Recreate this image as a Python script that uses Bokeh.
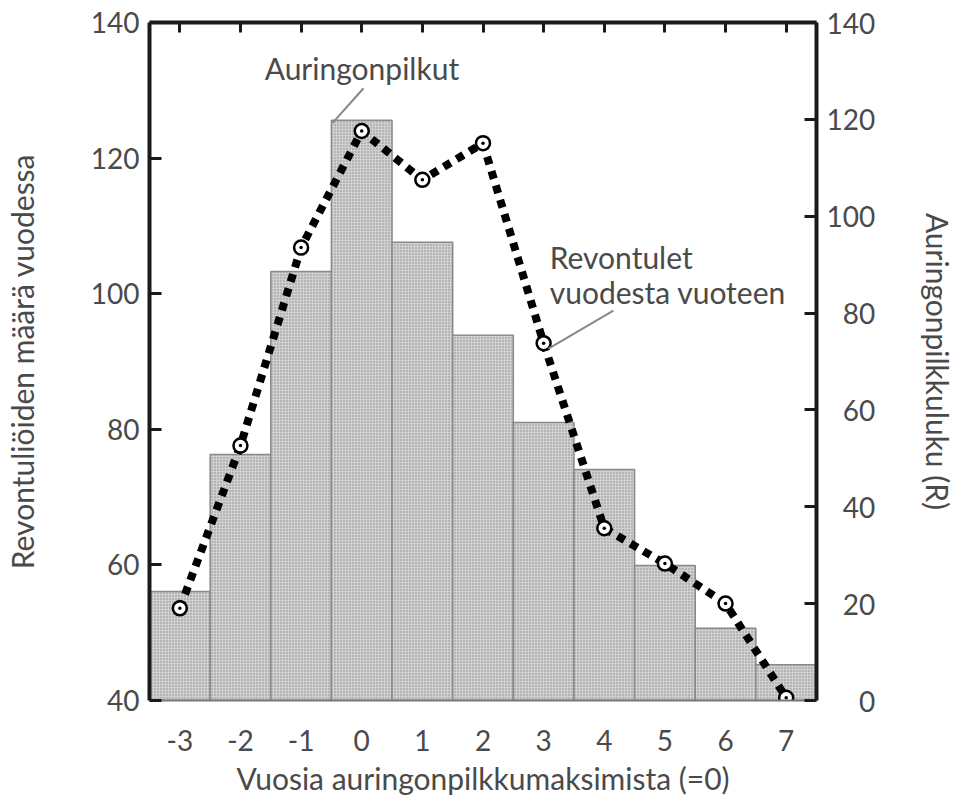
from bokeh.plotting import figure
from bokeh.models import Range1d, LinearAxis, FixedTicker, ColumnDataSource, Label
from bokeh.embed import file_html
from bokeh.resources import INLINE

# Years from sunspot maximum (=0)
years = [-3, -2, -1, 0, 1, 2, 3, 4, 5, 6, 7]
year_labels = ["-3", "-2", "-1", "0", "1", "2", "3", "4", "5", "6", "7"]
# Sunspot number R (bars, right axis)
sunspots = [22.5, 50.8, 88.6, 119.8, 94.6, 75.4, 57.4, 47.7, 27.9, 14.9, 7.4]
# Auroras per year (line, left axis)
auroras = [53.6, 77.6, 106.8, 124.0, 116.8, 122.2, 92.7, 65.4, 60.2, 54.3, 40.4]

left_ticks = [40, 60, 80, 100, 120, 140]
right_ticks = [0, 20, 40, 60, 80, 100, 120, 140]

FONT = "Lato"
TXT = "#4a4a4a"
TICK_FS = "28px"
LABEL_FS = "30px"

p = figure(width=961, height=803, output_backend="svg", toolbar_location=None,
           x_range=Range1d(-3.5, 7.5), y_range=Range1d(40, 140),
           min_border_left=148, min_border_right=145, min_border_top=22, min_border_bottom=103)
p.extra_y_ranges = {"spots": Range1d(0, 140)}
p.xgrid.visible = False
p.ygrid.visible = False
p.outline_line_color = None
p.background_fill_color = "white"

src_b = ColumnDataSource(dict(x=years, top=sunspots))
p.vbar(x="x", top="top", bottom=0, width=1.0, source=src_b, y_range_name="spots",
       fill_color="#d0d0d0", line_color="#8a8a8a", line_width=1.5,
       hatch_pattern="dot", hatch_color="#888888", hatch_scale=3, hatch_weight=1)

src_l = ColumnDataSource(dict(x=years, y=auroras))
p.line(x="x", y="y", source=src_l, line_color="black", line_width=8, line_dash="8 7")
p.scatter(x="x", y="y", source=src_l, marker="circle_dot", size=14,
          fill_color="white", line_color="black", line_width=2.5)

# bottom axis
xa = p.xaxis[0]
xa.ticker = FixedTicker(ticks=years)
xa.major_label_overrides = {y: s for y, s in zip(years, year_labels)}
xa.axis_line_color = "#777777"
xa.axis_line_width = 2
xa.major_tick_line_color = None
xa.minor_tick_line_color = None
xa.major_label_standoff = 23
xa.major_label_text_font = FONT
xa.major_label_text_font_size = TICK_FS
xa.major_label_text_color = TXT
xa.axis_label = "Vuosia auringonpilkkumaksimista (=0)"
xa.axis_label_text_font = FONT
xa.axis_label_text_font_size = LABEL_FS
xa.axis_label_text_font_style = "normal"
xa.axis_label_text_color = TXT
xa.axis_label_standoff = 6

# left axis
ya = p.yaxis[0]
ya.ticker = FixedTicker(ticks=left_ticks)
ya.axis_line_color = "#1a1a1a"
ya.axis_line_width = 4
ya.major_tick_in = 12
ya.major_tick_out = 0
ya.major_tick_line_width = 3
ya.major_tick_line_color = "#1a1a1a"
ya.minor_tick_line_color = None
ya.major_label_standoff = 10
ya.major_label_text_font = FONT
ya.major_label_text_font_size = TICK_FS
ya.major_label_text_color = TXT
ya.axis_label = "Revontuliöiden määrä vuodessa"
ya.axis_label_text_font = FONT
ya.axis_label_text_font_size = LABEL_FS
ya.axis_label_text_font_style = "normal"
ya.axis_label_text_color = TXT
ya.axis_label_standoff = 48

# right axis (labels right-aligned with figure spaces)
ra = LinearAxis(y_range_name="spots", ticker=FixedTicker(ticks=right_ticks))
ra.major_label_overrides = {t: ("\u2007" * (3 - len(str(t)))) + str(t) for t in right_ticks}
ra.axis_line_color = "#1a1a1a"
ra.axis_line_width = 4
ra.major_tick_in = 12
ra.major_tick_out = 0
ra.major_tick_line_width = 3
ra.major_tick_line_color = "#1a1a1a"
ra.minor_tick_line_color = None
ra.major_label_standoff = 10
ra.major_label_text_font = FONT
ra.major_label_text_font_size = TICK_FS
ra.major_label_text_color = TXT
ra.axis_label = "Auringonpilkkuluku (R)"
ra.axis_label_text_font = FONT
ra.axis_label_text_font_size = LABEL_FS
ra.axis_label_text_font_style = "normal"
ra.axis_label_text_color = TXT
ra.axis_label_standoff = 42
p.add_layout(ra, "right")

# top axis (frame)
ta = LinearAxis(ticker=FixedTicker(ticks=years))
ta.axis_line_color = "#1a1a1a"
ta.axis_line_width = 4
ta.major_tick_in = 10
ta.major_tick_out = 0
ta.major_tick_line_width = 3
ta.major_tick_line_color = "#1a1a1a"
ta.minor_tick_line_color = None
ta.major_label_text_font_size = "0px"
ta.major_label_text_color = None
p.add_layout(ta, "above")

# annotations
p.line(x=[0.03, -0.48], y=[130.3, 125.2], line_color="#888888", line_width=2)
p.add_layout(Label(x=-1.6, y=130.6, text="Auringonpilkut", text_font=FONT,
                   text_font_size="30px", text_color=TXT, text_baseline="bottom"))
p.line(x=[4.15, 3.08], y=[97.5, 91.9], line_color="#888888", line_width=2)
p.add_layout(Label(x=3.1, y=102.8, text="Revontulet", text_font=FONT,
                   text_font_size="30px", text_color=TXT, text_baseline="bottom"))
p.add_layout(Label(x=3.1, y=97.6, text="vuodesta vuoteen", text_font=FONT,
                   text_font_size="30px", text_color=TXT, text_baseline="bottom"))

open("out.html", "w").write(file_html(p, INLINE))
